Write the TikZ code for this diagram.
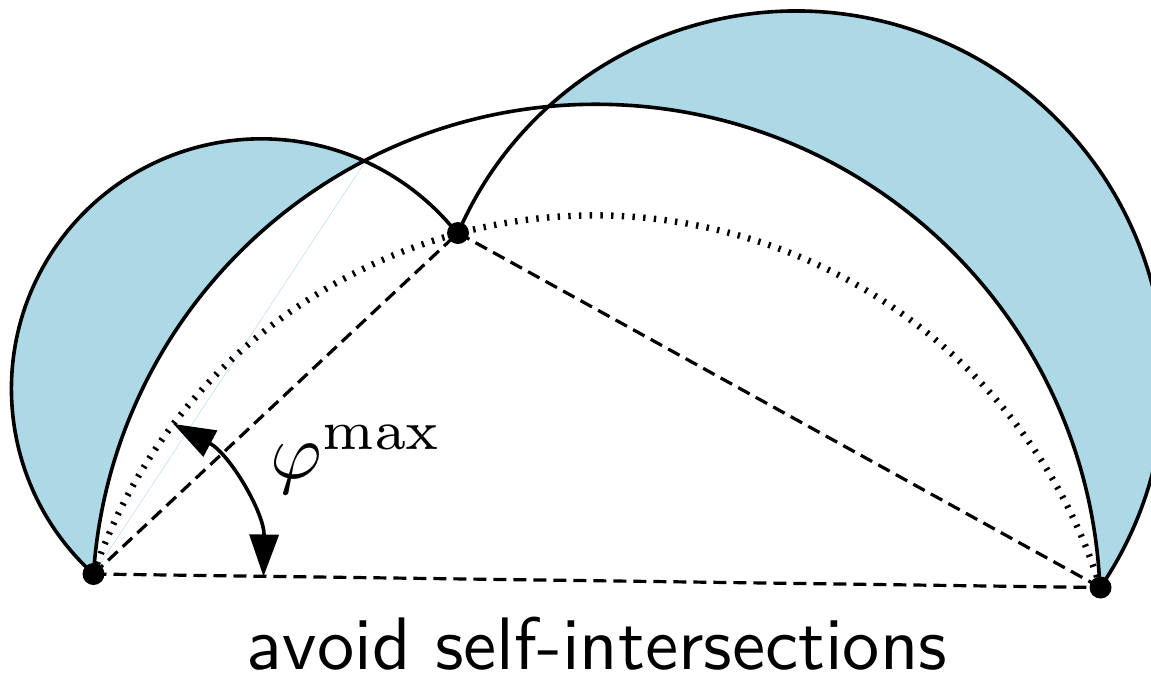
\documentclass[tikz,border=0pt]{standalone}
\usetikzlibrary{arrows.meta,calc}
\definecolor{lightblue}{RGB}{173,216,230}
\tikzset{
  curve/.style={line width=1.8pt},
  chord/.style={line width=1.6pt, dash pattern=on 6.5pt off 3.5pt},
  circum/.style={line width=3.2pt, dash pattern=on 1.2pt off 4.15pt},
  lens/.style={fill=lightblue},
  seam/.style={draw=lightblue, line width=0.2pt},
  vertex/.style={circle, fill=black, inner sep=0pt, minimum size=11pt},
  anglearrow/.style={line width=1.8pt, {Triangle[length=21pt,width=14.5pt]}-{Triangle[length=21pt,width=14.5pt]}},
}
\begin{document}
\begin{tikzpicture}[x=0.5pt,y=0.5pt]
\useasboundingbox (0,0) rectangle (1151,-681);
\clip (0,0) rectangle (1151,-681);
% geometry
\coordinate (pA) at (93.5,-574);
\coordinate (pB) at (458,-233);
\coordinate (pC) at (1100.5,-587.5);
\coordinate (pP) at (364.9,-162.1);
\coordinate (pQ) at (546.9,-107.9);
% blue lenses
\fill[lens] (pA) arc[start angle=227.8, end angle=65.7, radius=250]
  arc[start angle=117.42, end angle=176.1, radius=504] -- cycle;
\fill[lens] (pQ) arc[start angle=132.5, end angle=-34.29, radius=368.5]
  arc[start angle=2.55, end angle=95.7, radius=504] -- cycle;
\draw[seam] (pA) -- (pP);
% circumcircle (dotted)
\draw[circum] (pA) arc[start angle=161.14, end angle=17.27, radius=529.7];
% chords
\draw[chord] (pA) -- (pB);
\draw[chord] (pB) -- (pC);
\draw[chord] (pA) -- (pC);
% solid arcs
\draw[curve] (pA) arc[start angle=227.8, end angle=38.7, radius=250];
\draw[curve] (pA) arc[start angle=176.1, end angle=2.55, radius=504];
\draw[curve] (pB) arc[start angle=156.57, end angle=-34.29, radius=368.5];
% angle
\coordinate (ang1) at ($(pA)+(-0.85:170)$);
\draw[anglearrow] (ang1) arc[start angle=-0.85, end angle=62, radius=170];
\node[scale=3.95, anchor=base west, inner sep=0pt] (phi) at (269,-478) {$\varphi^{\max}$};
% vertices
\node[vertex] (A) at (pA) {};
\node[vertex] (B) at (pB) {};
\node[vertex] (C) at (pC) {};
% caption
\node[font=\sffamily, scale=3.72, anchor=base, inner sep=0pt] (caption) at (597,-669) {avoid self-intersections};
\end{tikzpicture}
\end{document}
